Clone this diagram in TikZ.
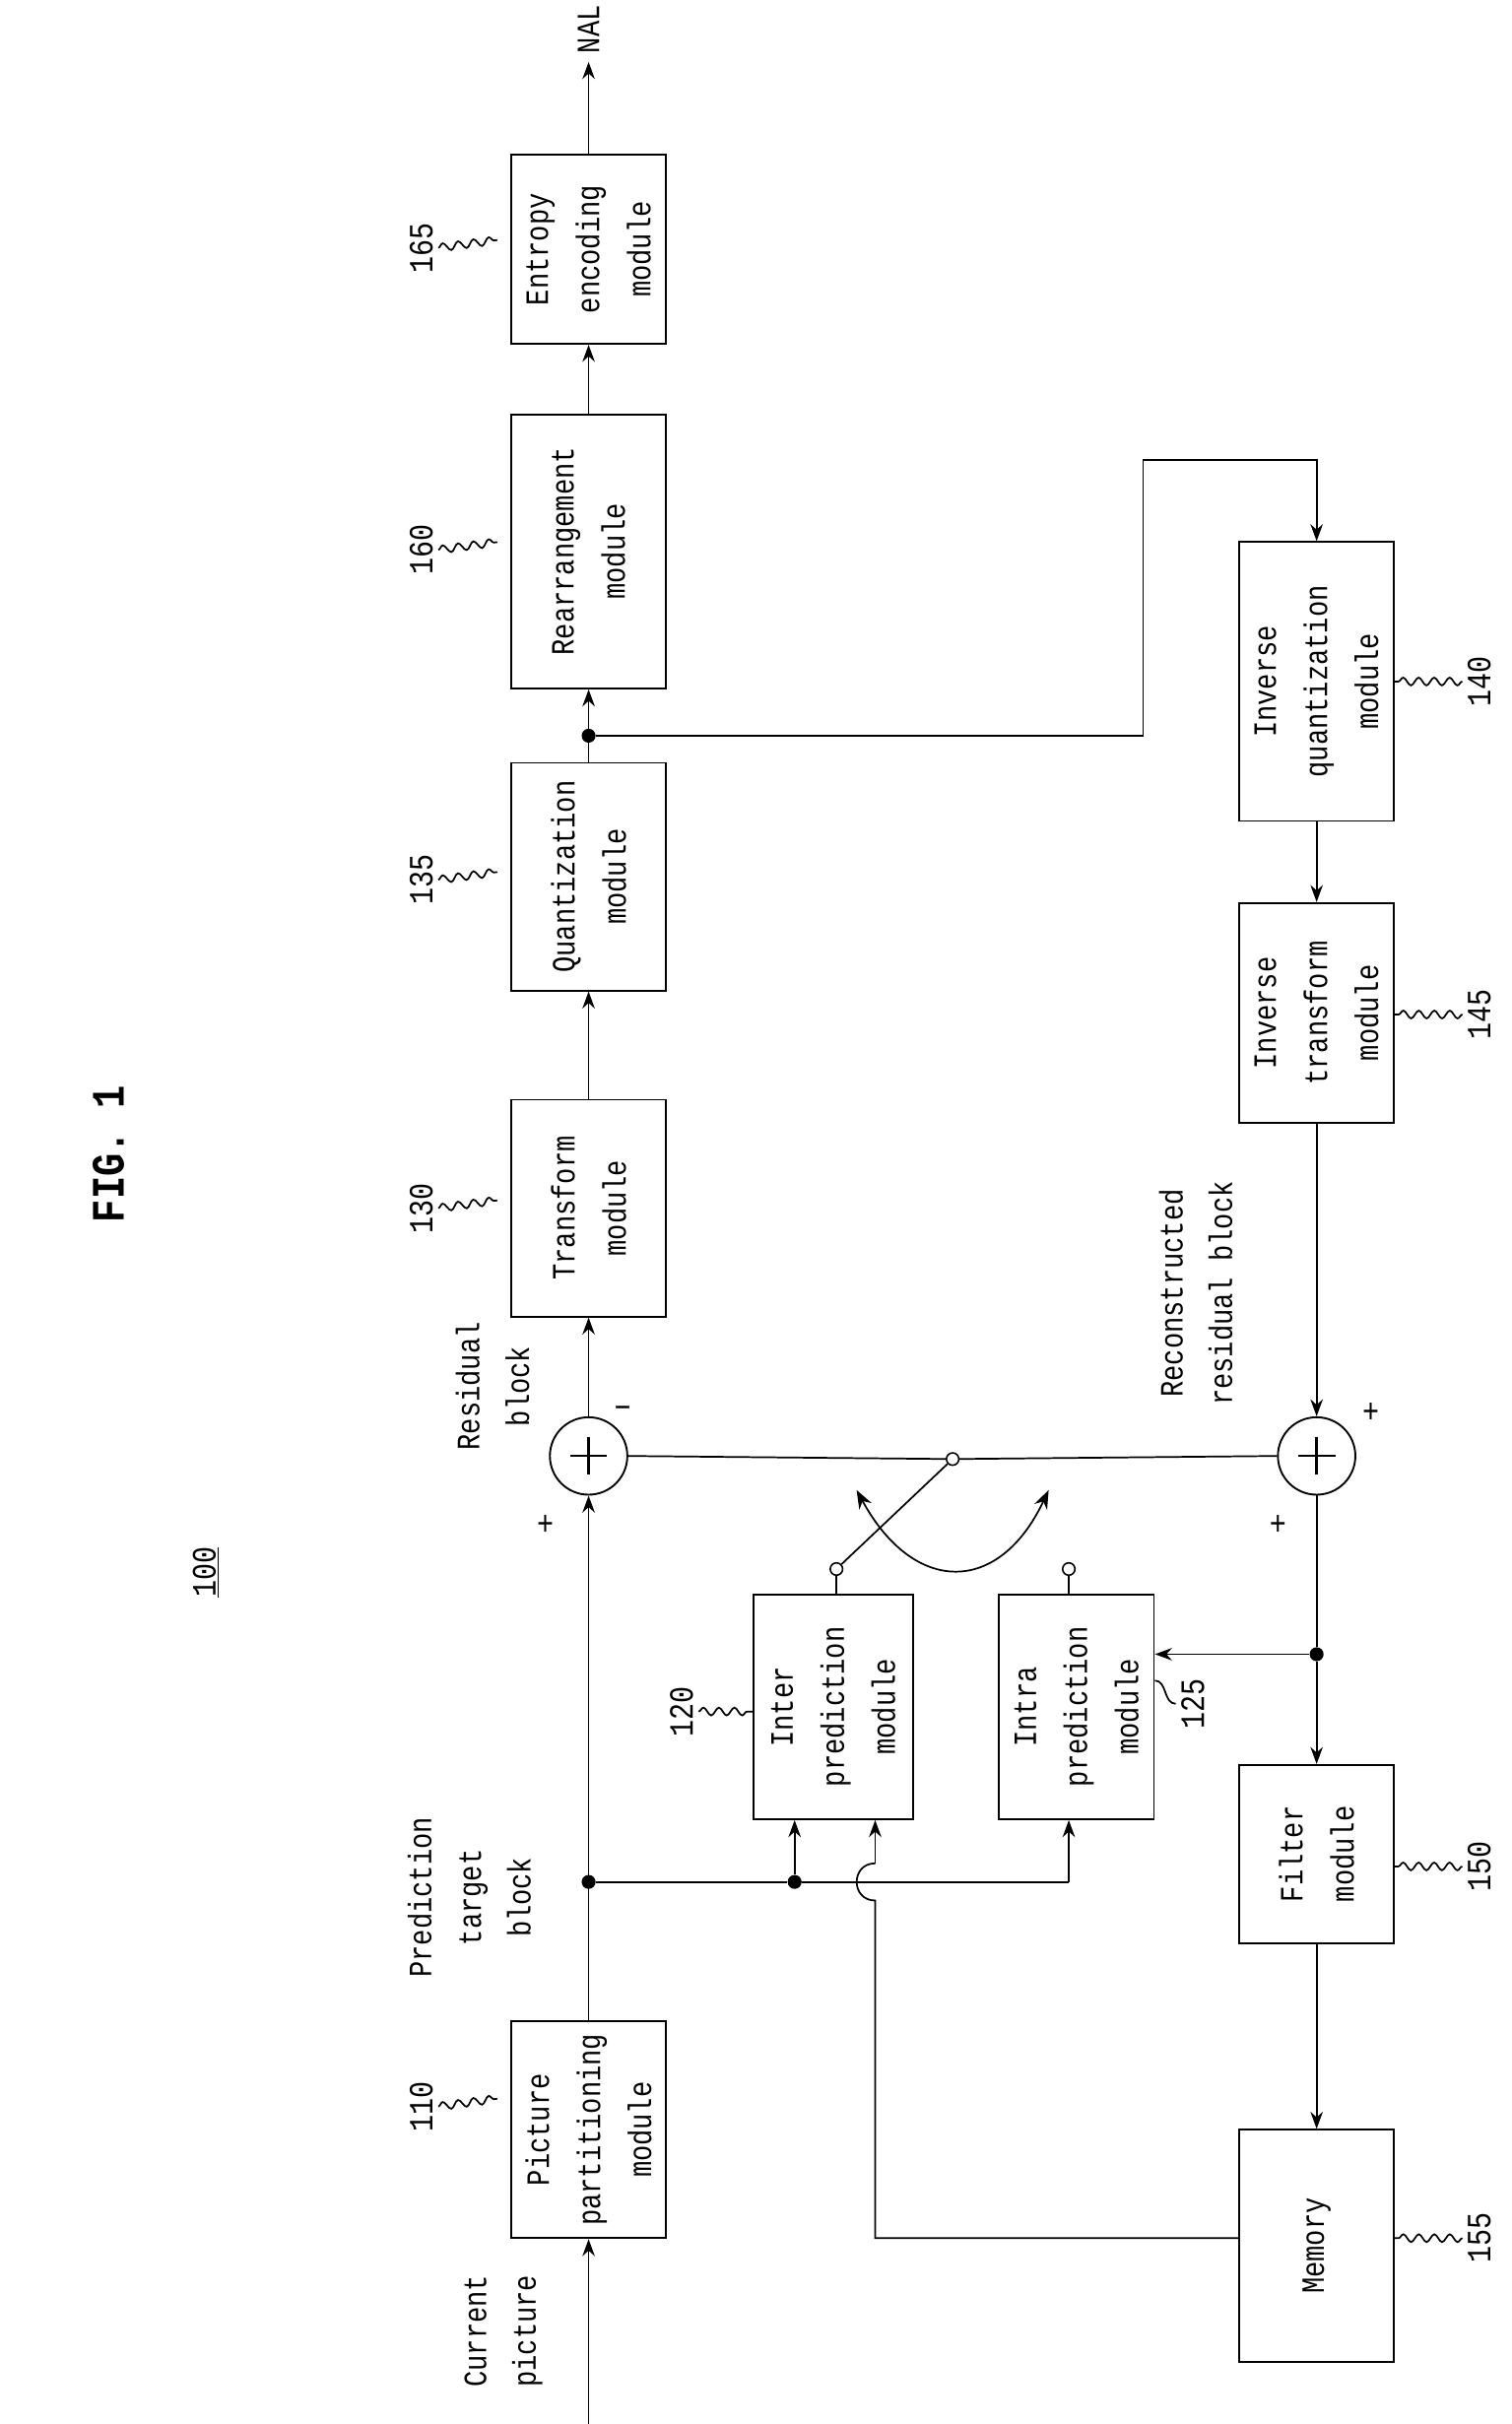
\documentclass[tikz,border=0pt]{standalone}
\usepackage{fontspec}
\setmainfont[FakeStretch=0.82]{Liberation Mono}
\usetikzlibrary{arrows.meta,decorations.pathmorphing}
\begin{document}
\begin{tikzpicture}[x=1pt,y=-1pt,
  box/.style={draw,line width=1.2pt,inner sep=0pt},
  txt/.style={rotate=90,align=center,font=\fontsize{21}{33}\selectfont},
  num/.style={rotate=90,font=\fontsize{22}{26}\selectfont},
  lbl/.style={rotate=90,align=center,font=\fontsize{21}{32}\selectfont},
  ln/.style={line width=1.1pt},
  ar/.style={ln,-{Stealth[length=11pt,width=8pt]}},
  dot/.style={circle,fill,inner sep=0pt,minimum size=9pt},
  oc/.style={circle,draw,fill=white,line width=1pt,inner sep=0pt,minimum size=8pt},
  sq/.style={ln,decorate,decoration={snake,amplitude=2.5pt,segment length=10pt}}]
\useasboundingbox (0,0) rectangle (976,1565);
% title
\node[rotate=90,font=\bfseries\fontsize{30}{34}\selectfont] at (70,745) {FIG. 1};
\node[rotate=90,font=\fontsize{22}{26}\selectfont] (h) at (133,1015) {\underline{100}};
% boxes
\node[box,minimum width=100pt,minimum height=140pt] (p) at (380,1375) {};
\node[txt] at (p) {Picture\\partitioning\\module};
\node[box,minimum width=100pt,minimum height=140pt] (t) at (380,780) {};
\node[txt] at (t) {Transform\\module};
\node[box,minimum width=100pt,minimum height=147pt] (q) at (380,566) {};
\node[txt] at (q) {Quantization\\module};
\node[box,minimum width=100pt,minimum height=177pt] (r) at (380,356) {};
\node[txt] at (r) {Rearrangement\\module};
\node[box,minimum width=100pt,minimum height=122pt] (e) at (380,161) {};
\node[txt] at (e) {Entropy\\encoding\\module};
\node[box,minimum width=100pt,minimum height=180pt] (iq) at (850,440) {};
\node[txt] at (iq) {Inverse\\quantization\\module};
\node[box,minimum width=100pt,minimum height=142pt] (it) at (850,654) {};
\node[txt] at (it) {Inverse\\transform\\module};
\node[box,minimum width=100pt,minimum height=115pt] (f) at (850,1197) {};
\node[txt] at (f) {Filter\\module};
\node[box,minimum width=100pt,minimum height=150pt] (m) at (850,1450) {};
\node[txt] at (m) {Memory};
\node[box,minimum width=103pt,minimum height=145pt] (inter) at (538,1102) {};
\node[txt] at (inter) {Inter\\prediction\\module};
\node[box,minimum width=100pt,minimum height=145pt] (intra) at (695,1102) {};
\node[txt] at (intra) {Intra\\prediction\\module};
% adders
\node[circle,draw,line width=1.2pt,minimum size=50pt,inner sep=0pt] (a1) at (380,940) {};
\draw[line width=1.6pt] (368,940) -- (392,940) (380,928) -- (380,952);
\node[circle,draw,line width=1.2pt,minimum size=50pt,inner sep=0pt] (a2) at (850,940) {};
\draw[line width=1.6pt] (838,940) -- (862,940) (850,928) -- (850,952);
% labels
\node[lbl] (cp) at (325,1505) {Current\\picture};
\node[lbl] (ptb) at (303,1225) {Prediction\\target\\block};
\node[lbl] (rb) at (318,895) {Residual\\block};
\node[lbl] (rrb) at (772,835) {Reconstructed\\residual block};
\node[font=\fontsize{22}{26}\selectfont] (pl1) at (352,985) {+};
\node[font=\fontsize{22}{26}\selectfont] (mi1) at (402,912) {\textminus};
\node[font=\fontsize{22}{26}\selectfont] (pl2) at (825,985) {+};
\node[font=\fontsize{22}{26}\selectfont] (pl3) at (885,912) {+};
\node[rotate=90,font=\fontsize{21}{26}\selectfont,anchor=west] (nal) at (380,38) {NAL};
% numbers
\node[num] (n110) at (272,1360) {110};
\node[num] (n130) at (272,780) {130};
\node[num] (n135) at (272,568) {135};
\node[num] (n160) at (272,355) {160};
\node[num] (n165) at (272,160) {165};
\node[num] (n120) at (440,1105) {120};
\node[num] (n125) at (770,1100) {125};
\node[num] (n140) at (955,440) {140};
\node[num] (n145) at (955,655) {145};
\node[num] (n150) at (955,1205) {150};
\node[num] (n155) at (955,1445) {155};
\draw[sq] (n110.south) -- ++(38,-5);
\draw[sq] (n130.south) -- ++(38,-5);
\draw[sq] (n135.south) -- ++(38,-5);
\draw[sq] (n160.south) -- ++(38,-5);
\draw[sq] (n165.south) -- ++(38,-5);
\draw[sq] (n120.south) -- (inter.west|-n120.south);
\draw[ln] (n125.north) to[out=180,in=0] (intra.east|-0,1085);
\draw[sq] (n140.north) -- (iq.east|-n140.north);
\draw[sq] (n145.north) -- (it.east|-n145.north);
\draw[sq] (n150.north) -- (f.east|-n150.north);
\draw[sq] (n155.north) -- (m.east|-n155.north);
% main flow
\coordinate (cin) at (380,1565);
\draw[ar] (cin) -- (p.south);
\node[dot] (d1) at (380,1215) {};
\draw[ar] (p.north) -- (a1.south);
\draw[ar] (a1.north) -- (t.south);
\draw[ar] (t.north) -- (q.south);
\node[dot] (d2) at (380,475) {};
\draw[ar] (q.north) -- (r.south);
\draw[ar] (r.north) -- (e.south);
\coordinate (nalc) at (380,40);
\draw[ar] (e.north) -- (nalc);
% to inverse quant
\draw[ar] (d2) -- (738,475) -- (738,297) -- (850,297) -- (iq.north);
\draw[ar] (iq.south) -- (it.north);
\draw[ar] (it.south) -- (a2.north);
\node[dot] (d3) at (850,1068) {};
\draw[ln] (a2.south) -- (d3);
\draw[ar] (d3) -- (f.north);
\draw[ar] (d3) -- (intra.east|-d3);
\draw[ar] (f.south) -- (m.north);
% prediction inputs
\node[dot] (d4) at (513,1215) {};
\draw[ln] (d1) -- (d4) -- (690,1215);
\draw[ar] (690,1215) -- (intra.south-|690,0);
\draw[ar] (d4) -- (inter.south-|d4);
\draw[ln] (m.west|-0,1445) -- (565,1445) -- (565,1227) to[out=180,in=180,looseness=1.7] (565,1203);
\draw[ar] (565,1203) -- (inter.south-|565,0);
% switch
\node[oc] (o1) at (540,1013) {};
\node[oc] (o2) at (690,1013) {};
\node[oc] (o3) at (615,942) {};
\draw[ln] (inter.north-|o1) -- (o1);
\draw[ln] (intra.north-|o2) -- (o2);
\draw[ln] (a1.east) -- (o3) -- (a2.west);
\draw[ln] (o3) -- (o1);
\draw[ln,{Stealth[length=12pt,width=9pt]}-{Stealth[length=12pt,width=9pt]}] (553,962) .. controls (590,1030) and (645,1030) .. (677,962);
\end{tikzpicture}
\end{document}
